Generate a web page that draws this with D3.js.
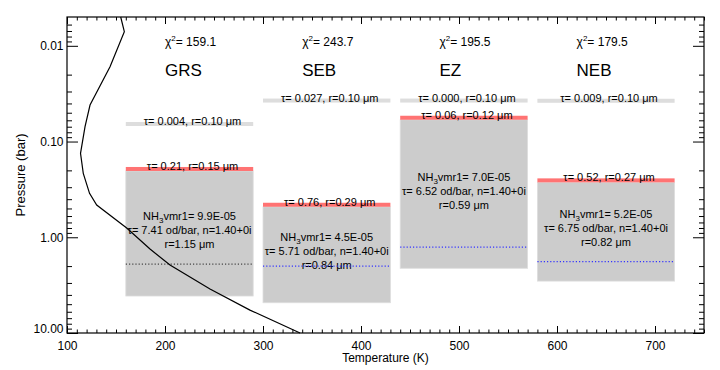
<!DOCTYPE html>
<html><head><meta charset="utf-8">
<script src="https://cdn.jsdelivr.net/npm/d3@7"></script>
<style>
body{margin:0;background:#fff}
svg{display:block}
text{font-family:"Liberation Sans",Arial,Helvetica,sans-serif;fill:#000}
</style>
</head><body><svg id="c" width="720" height="370"></svg>
<script>
// ---------- data ----------
const regions   = ["GRS","SEB","EZ","NEB"];
const chi2      = ["159.1","243.7","195.5","179.5"];
const boxTmin   = [160,300,440,580];
const boxTmax   = [290,430,570,720];
const labelT    = [200,340,480,620];
const hazeP     = [0.0656,0.0373,0.0373,0.0375];
const hazeTau   = ["0.004","0.027","0.000","0.009"];
const hazeR     = ["0.10","0.10","0.10","0.10"];
const cloudTopP = [0.203,0.480,0.0592,0.267];
const cloudTau  = ["0.21","0.76","0.06","0.52"];
const cloudR    = ["0.15","0.29","0.12","0.27"];
const cloudBaseP= [4.11,4.83,2.11,2.87];
const nh3Vmr    = ["9.9E-05","4.5E-05","7.0E-05","5.2E-05"];
const deepTau   = ["7.41","5.71","6.52","6.75"];
const refrIdx   = ["1.40+0i","1.40+0i","1.40+0i","1.40+0i"];
const deepR     = ["1.15","0.84","0.59","0.82"];
const dotP      = [1.905,2.0,1.27,1.80];
const profT = [154.8,158.5,143.9,123.5,118.4,113.8,116.6,123.0,130.3,160.9,184.7,205.1,245.9,286.7,337.8];
const profP = [0.005,0.00712,0.01653,0.0416,0.070,0.1328,0.2148,0.3476,0.4606,0.801,1.328,1.951,3.476,5.763,10];
const xTickVals = [100,200,300,400,500,600,700];
const yTickVals = [0.01,0.1,1,10];
const xDomain = [100,750];
const yDomain = [0.005,10];

// ---------- setup ----------
const svg = d3.select("#c");
const L=67, R=704, T=17, B=333;
const x = d3.scaleLinear().domain(xDomain).range([L,R]);
const y = d3.scaleLog().domain(yDomain).range([T,B]);
const g = svg.append("g");

regions.forEach((name,i)=>{
  const x0 = x(boxTmin[i]), x1 = x(boxTmax[i]);
  const yt = y(cloudTopP[i]), yb = y(cloudBaseP[i]);
  const cx = (x0+x1)/2;
  g.append("rect").attr("x",x0).attr("y",yt).attr("width",x1-x0).attr("height",yb-yt)
    .attr("fill","#cccccc").attr("stroke","#dedede").attr("stroke-width",0.8);
  g.append("rect").attr("x",x0).attr("y",yt-4).attr("width",x1-x0).attr("height",4)
    .attr("fill","#ff7373");
  const yh = y(hazeP[i]);
  g.append("rect").attr("x",x0).attr("y",yh-2).attr("width",x1-x0).attr("height",4)
    .attr("fill","#dddddd");
  g.append("text").attr("x",cx+3).attr("y",yh+1).attr("text-anchor","middle")
    .attr("font-size",11).text(`τ= ${hazeTau[i]}, r=${hazeR[i]} μm`);
  g.append("text").attr("x",cx+3).attr("y",yt-1).attr("text-anchor","middle")
    .attr("font-size",11).text(`τ= ${cloudTau[i]}, r=${cloudR[i]} μm`);
  const ym = (yt+yb)/2 + 0.6;
  const t1 = g.append("text").attr("x",cx).attr("y",ym-14).attr("text-anchor","middle").attr("font-size",11);
  t1.append("tspan").text("NH");
  t1.append("tspan").attr("font-size",8).attr("dy",3).text("3");
  t1.append("tspan").attr("dy",-3).text(`vmr1= ${nh3Vmr[i]}`);
  g.append("text").attr("x",cx).attr("y",ym).attr("text-anchor","middle").attr("font-size",11)
    .text(`τ= ${deepTau[i]} od/bar, n=${refrIdx[i]}`);
  g.append("text").attr("x",cx).attr("y",ym+14).attr("text-anchor","middle").attr("font-size",11)
    .text(`r=${deepR[i]} μm`);
  g.append("line").attr("x1",x0).attr("x2",x1).attr("y1",y(dotP[i])).attr("y2",y(dotP[i]))
    .attr("stroke", i===0 ? "#444444" : "#3333ff").attr("stroke-width",1.3)
    .attr("stroke-dasharray","1.2,2");
  const tc = g.append("text").attr("x",x(labelT[i])).attr("y",46).attr("font-size",12);
  tc.append("tspan").text("χ");
  tc.append("tspan").attr("font-size",8).attr("dy",-5).text("2");
  tc.append("tspan").attr("dy",5).text(`= ${chi2[i]}`);
  g.append("text").attr("x",x(labelT[i])).attr("y",75.5).attr("font-size",17).text(name);
});

const prof = profT.map((t,i)=>[t,profP[i]]);
g.append("path").datum(prof)
  .attr("d", d3.line().x(d=>x(d[0])).y(d=>y(d[1])))
  .attr("fill","none").attr("stroke","#000").attr("stroke-width",1.2);

// ---------- axes ----------
const xMinor = d3.range(100,751,10);
const yMinor = [];
[0.001,0.01,0.1,1].forEach(dec=>{ for(let k=2;k<=9;k++){ const v=k*dec; if(v>0.0051 && v<10) yMinor.push(v);} });

function strip(sel){ sel.select(".domain").remove(); sel.selectAll(".tick line").attr("stroke","#000"); return sel; }

strip(svg.append("g").attr("transform",`translate(0,${B})`)
  .call(d3.axisBottom(x).tickValues(xMinor).tickSize(-3.5).tickFormat("")));
strip(svg.append("g").attr("transform",`translate(0,${T})`)
  .call(d3.axisTop(x).tickValues(xMinor).tickSize(-3.5).tickFormat("")));
strip(svg.append("g").attr("transform",`translate(0,${B})`)
  .call(d3.axisBottom(x).tickValues(xTickVals).tickSize(-7).tickPadding(8).tickFormat(d3.format("d"))));
strip(svg.append("g").attr("transform",`translate(0,${T})`)
  .call(d3.axisTop(x).tickValues(xTickVals).tickSize(-7).tickFormat("")));

strip(svg.append("g").attr("transform",`translate(${L},0)`)
  .call(d3.axisLeft(y).tickValues(yMinor).tickSize(-5).tickFormat("")));
strip(svg.append("g").attr("transform",`translate(${R},0)`)
  .call(d3.axisRight(y).tickValues(yMinor).tickSize(-5).tickFormat("")));
const yl = strip(svg.append("g").attr("transform",`translate(${L},0)`)
  .call(d3.axisLeft(y).tickValues(yTickVals).tickSize(-11).tickPadding(3.5).tickFormat(d3.format(".2f"))));
yl.selectAll(".tick").filter(d=>d===10).select("text").attr("dy","-0.05em");
strip(svg.append("g").attr("transform",`translate(${R},0)`)
  .call(d3.axisRight(y).tickValues(yTickVals).tickSize(-11).tickFormat("")));
svg.selectAll(".tick text").attr("font-family",null).attr("font-size",12).attr("fill","#000");

svg.append("rect").attr("x",L).attr("y",T).attr("width",R-L).attr("height",B-T)
  .attr("fill","none").attr("stroke","#000").attr("stroke-width",1.2);

svg.append("text").attr("x",(L+R)/2).attr("y",362).attr("text-anchor","middle")
  .attr("font-size",12).text("Temperature (K)");
svg.append("text").attr("transform",`translate(24.5,${(T+B)/2}) rotate(-90)`)
  .attr("text-anchor","middle").attr("font-size",13).text("Pressure (bar)");
</script>
</body></html>
